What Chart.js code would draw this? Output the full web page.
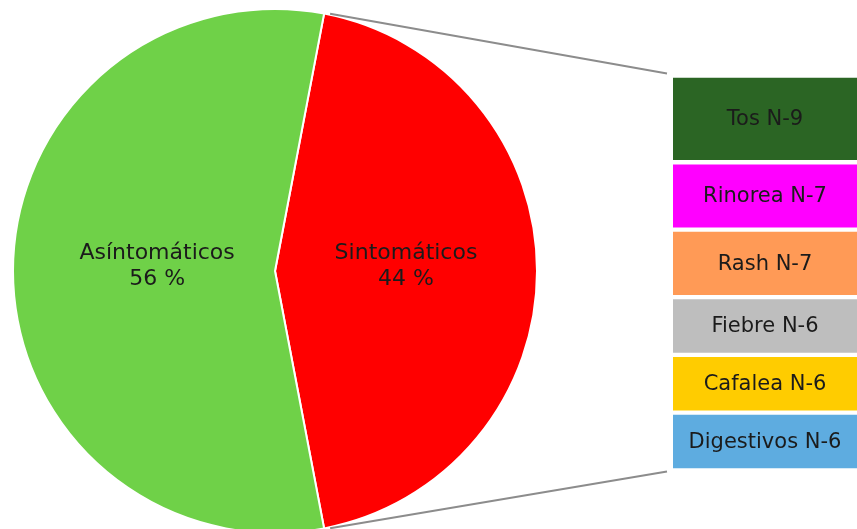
<!DOCTYPE html>
<html>
<head>
<meta charset="utf-8">
<script src="https://cdn.jsdelivr.net/npm/chart.js@4/dist/chart.umd.min.js"></script>
<style>
  html, body { margin: 0; padding: 0; background: #ffffff; overflow: hidden; }
  #wrap { position: relative; width: 857px; height: 529px; overflow: hidden; background: #fff; }
  #pieBox { position: absolute; left: 0; top: 0; width: 857px; height: 540px; }
  #barBox { position: absolute; left: 673px; top: 0; width: 184px; height: 529px; }
</style>
</head>
<body>
<div id="wrap">
  <div id="pieBox"><canvas id="pie"></canvas></div>
  <div id="barBox"><canvas id="bar"></canvas></div>
</div>
<script>
// ---- Data ----
const pieLabels = ['Sintomáticos', 'Asíntomáticos'];
const pieValues = [44, 56];
const pieColors = ['#ff0000', '#6fd148'];

const symptomLabels = ['Tos', 'Rinorea', 'Rash', 'Fiebre', 'Cafalea', 'Digestivos'];
const symptomValues = [9, 7, 7, 6, 6, 6];
const symptomColors = ['#2b6524', '#ff00ff', '#ff9a56', '#bebebe', '#ffcc00', '#5eace0'];

const FONT = '"DejaVu Sans", Verdana, sans-serif';
const TEXT_COLOR = '#1b1b1b';

const pieTotal = pieValues.reduce((a, b) => a + b, 0);
const symptomTotal = symptomValues.reduce((a, b) => a + b, 0);

// ---- Bar (stacked breakdown) ----
const barLabelPlugin = {
  id: 'barLabels',
  afterDatasetsDraw(chart) {
    const ctx = chart.ctx;
    ctx.save();
    ctx.font = '21px ' + FONT;
    ctx.fillStyle = TEXT_COLOR;
    ctx.textAlign = 'center';
    ctx.textBaseline = 'middle';
    chart.data.datasets.forEach((ds, i) => {
      const el = chart.getDatasetMeta(i).data[0];
      const cy = (el.y + el.base) / 2;
      ctx.fillText(symptomLabels[i] + ' N-' + symptomValues[i], el.x, cy + 1);
    });
    ctx.restore();
  }
};

const barChart = new Chart(document.getElementById('bar'), {
  type: 'bar',
  data: {
    labels: [''],
    datasets: symptomLabels.map((l, i) => ({
      label: l,
      data: [symptomValues[i]],
      backgroundColor: symptomColors[i],
      borderColor: '#ffffff',
      borderWidth: { top: 2.5, bottom: 2.5, left: 0, right: 0 },
      borderSkipped: false,
      barPercentage: 1,
      categoryPercentage: 1
    }))
  },
  options: {
    responsive: true,
    maintainAspectRatio: false,
    animation: false,
    layout: { padding: { top: 75.5, bottom: 58.5, left: 0, right: 0 } },
    plugins: { legend: { display: false }, tooltip: { enabled: false } },
    scales: {
      x: { stacked: true, display: false },
      y: { stacked: true, display: false, reverse: true, min: 0, max: symptomTotal }
    }
  },
  plugins: [barLabelPlugin]
});

// ---- Pie ----
const pieLabelPlugin = {
  id: 'pieLabels',
  afterDatasetsDraw(chart) {
    const ctx = chart.ctx;
    const meta = chart.getDatasetMeta(0);
    const factors = [0.5, 0.45];
    ctx.save();
    ctx.font = '22px ' + FONT;
    ctx.fillStyle = TEXT_COLOR;
    ctx.textAlign = 'center';
    ctx.textBaseline = 'middle';
    meta.data.forEach((arc, i) => {
      const p = arc.getProps(['x', 'y', 'startAngle', 'endAngle', 'outerRadius'], true);
      const mid = (p.startAngle + p.endAngle) / 2;
      const r = p.outerRadius * factors[i];
      const x = p.x + Math.cos(mid) * r;
      const y = p.y + Math.sin(mid) * r - 5;
      ctx.fillText(pieLabels[i], x, y - 13);
      ctx.fillText(pieValues[i] + ' %', x, y + 13);
    });
    ctx.restore();

    // connector lines from the first slice's edges to the stacked bar
    const arc = meta.data[0].getProps(['x', 'y', 'startAngle', 'endAngle', 'outerRadius'], true);
    const pieRect = chart.canvas.getBoundingClientRect();
    const barRect = barChart.canvas.getBoundingClientRect();
    const dx = barRect.left - pieRect.left;
    const dy = barRect.top - pieRect.top;
    const first = barChart.getDatasetMeta(0).data[0];
    const last = barChart.getDatasetMeta(symptomLabels.length - 1).data[0];
    const barLeft = first.x - first.width / 2 + dx - 6;
    const barTop = Math.min(first.y, first.base) + dy - 2;
    const barBottom = Math.max(last.y, last.base) + dy + 1;
    const sx = arc.x + Math.cos(arc.startAngle) * arc.outerRadius;
    const sy = arc.y + Math.sin(arc.startAngle) * arc.outerRadius;
    const ex = arc.x + Math.cos(arc.endAngle) * arc.outerRadius;
    const ey = arc.y + Math.sin(arc.endAngle) * arc.outerRadius;
    ctx.save();
    ctx.strokeStyle = '#8c8c8c';
    ctx.lineWidth = 2;
    ctx.beginPath();
    ctx.moveTo(sx + 6, sy);
    ctx.lineTo(barLeft, barTop);
    ctx.moveTo(ex + 6, ey);
    ctx.lineTo(barLeft, barBottom);
    ctx.stroke();
    ctx.restore();
  }
};

new Chart(document.getElementById('pie'), {
  type: 'pie',
  data: {
    labels: pieLabels,
    datasets: [{
      data: pieValues,
      backgroundColor: pieColors,
      borderColor: '#ffffff',
      borderWidth: 2
    }]
  },
  options: {
    responsive: true,
    maintainAspectRatio: false,
    animation: false,
    rotation: 90 - (pieValues[0] / pieTotal) * 180,
    layout: { padding: { left: 12, right: 319, top: 8, bottom: 6 } },
    plugins: { legend: { display: false }, tooltip: { enabled: false } }
  },
  plugins: [pieLabelPlugin]
});
</script>
</body>
</html>
